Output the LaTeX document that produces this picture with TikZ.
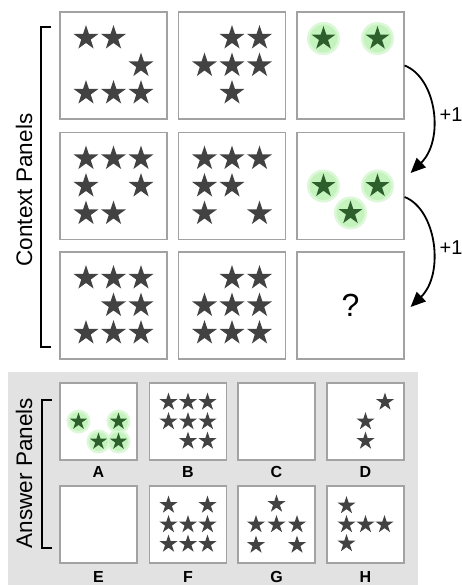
\documentclass[tikz,border=0pt]{standalone}
\usepackage{fontspec}
\setmainfont{Liberation Sans}
\usetikzlibrary{shapes.geometric,arrows.meta}

\definecolor{stargray}{HTML}{424242}
\definecolor{stargreen}{HTML}{2D5F2D}
\definecolor{glowin}{HTML}{C4F3BE}
\definecolor{glowout}{HTML}{DDF8D9}
\definecolor{frame}{HTML}{A2A2A2}
\definecolor{answerbg}{HTML}{E2E2E2}

\tikzset{
  panel/.style={draw=frame, line width=1.2pt, fill=white,
    minimum width=107pt, minimum height=107pt, inner sep=0pt},
  apanel/.style={panel, minimum width=77pt, minimum height=77pt},
  starshape/.style={star, star points=5, star point ratio=2.618,
    inner sep=0pt, draw=none},
  cstar/.style={starshape, fill=stargray, minimum size=26pt},
  cgreen/.style={starshape, fill=stargreen, minimum size=25pt},
  astar/.style={starshape, fill=stargray, minimum size=19pt},
  agreen/.style={starshape, fill=stargreen, minimum size=18pt},
  bracket/.style={line width=2.4pt, black},
  sidelabel/.style={rotate=90, font=\fontsize{22.5}{26}\selectfont},
  letter/.style={font=\fontsize{16}{18}\selectfont\bfseries},
  stepnote/.style={font=\fontsize{20}{22}\selectfont, anchor=west},
  bendarrow/.style={line width=1.8pt, -{Triangle[length=15pt,width=13pt]}}
}

% #1 panel node, #2 grid spacing, #3 star style, #4 list of grid offsets
\newcommand\starset[4]{%
  \foreach \i/\j [count=\k] in {#4}
    \node[#3] (#1s\k) at ([shift={(\i*#2,\j*#2)}]#1) {};}

% glowing stars: #1 panel node, #2 spacing, #3 glow radius, #4 star style, #5 offsets
\newcommand\glowset[5]{%
  \foreach \i/\j in {#5}
    \fill[glowout] ([shift={(\i*#2,\j*#2)}]#1) circle[radius=#3];
  \foreach \i/\j in {#5}
    \fill[glowin] ([shift={(\i*#2,\j*#2)}]#1) circle[radius=#3-2.5pt];
  \starset{#1}{#2}{#4}{#5}}

\begin{document}
\begin{tikzpicture}[x=1pt, y=-1pt]
  \fill[white] (0,0) rectangle (462,585);
  \useasboundingbox (0,0) rectangle (462,585);

  % ---------- context grid ----------
  \node[panel] (p11) at (113.5,65.5) {};
  \node[panel] (p12) at (232,65.5) {};
  \node[panel] (p13) at (350.5,65.5) {};
  \node[panel] (p21) at (113.5,186) {};
  \node[panel] (p22) at (232,186) {};
  \node[panel] (p23) at (350.5,186) {};
  \node[panel] (p31) at (113.5,305.5) {};
  \node[panel] (p32) at (232,305.5) {};
  \node[panel] (p33) at (350.5,305.5) {\fontsize{32}{34}\selectfont ?};

  \starset{p11}{27.5}{cstar}{-1/-1,0/-1,1/0,-1/1,0/1,1/1}
  \starset{p12}{27.5}{cstar}{0/-1,1/-1,-1/0,0/0,1/0,0/1}
  \glowset{p13}{27}{16.5pt}{cgreen}{-1/-1,1/-1}
  \starset{p21}{27.5}{cstar}{-1/-1,0/-1,1/-1,-1/0,1/0,-1/1,0/1}
  \starset{p22}{27.5}{cstar}{-1/-1,0/-1,1/-1,-1/0,0/0,-1/1,1/1}
  \glowset{p23}{27}{16.5pt}{cgreen}{-1/0,1/0,0/1}
  \starset{p31}{27.5}{cstar}{-1/-1,0/-1,1/-1,0/0,1/0,-1/1,0/1,1/1}
  \starset{p32}{27.5}{cstar}{0/-1,1/-1,-1/0,0/0,1/0,-1/1,0/1,1/1}

  % step arrows
  \draw[bendarrow] (p13.east) .. controls +(32,12.5) and +(34,-33) ..
    node[stepnote, pos=0.5, xshift=3pt, yshift=-3pt] (n1) {+1}
    ([shift={(6,-13)}]p23.east);
  \draw[bendarrow] ([shift={(0,11)}]p23.east) .. controls +(32,12.5) and +(34,-33) ..
    node[stepnote, pos=0.5, xshift=3pt, yshift=-3pt] (n2) {+1}
    ([shift={(6,1.5)}]p33.east);

  % context bracket and label
  \draw[bracket] (51,27) -- (41,27) -- (41,347) -- (51,347);
  \node[sidelabel] (ctx) at (24,190) {Context Panels};

  % ---------- answer area ----------
  \fill[answerbg] (8,372) rectangle (418,585);

  \node[apanel] (aA) at (98.5,421.5) {};
  \node[apanel] (aB) at (188,421.5) {};
  \node[apanel] (aC) at (276.5,421.5) {};
  \node[apanel] (aD) at (365.5,421.5) {};
  \node[apanel] (aE) at (98.5,524.5) {};
  \node[apanel] (aF) at (188,524.5) {};
  \node[apanel] (aG) at (276.5,524.5) {};
  \node[apanel] (aH) at (365.5,524.5) {};

  \glowset{aA}{20}{12pt}{agreen}{-1/0,1/0,0/1,1/1}
  \starset{aB}{19.5}{astar}{-1/-1,0/-1,1/-1,-1/0,0/0,1/0,0/1,1/1}
  \starset{aD}{19.5}{astar}{1/-1,0/0,0/1}
  \starset{aF}{19.5}{astar}{-1/-1,1/-1,-1/0,0/0,1/0,-1/1,0/1,1/1}
  \starset{aG}{20.5}{astar}{0/-1,-1/0,0/0,1/0,-1/1,1/1}
  \starset{aH}{19}{astar}{-1/-1,-1/0,0/0,1/0,-1/1}

  \node[letter] (lA) at (98.5,472) {A};
  \node[letter] (lB) at (188,472) {B};
  \node[letter] (lC) at (276.5,472) {C};
  \node[letter] (lD) at (365.5,472) {D};
  \node[letter] (lE) at (98.5,577) {E};
  \node[letter] (lF) at (188,577) {F};
  \node[letter] (lG) at (276.5,577) {G};
  \node[letter] (lH) at (365.5,577) {H};

  % answer bracket and label
  \draw[bracket] (52,400) -- (42,400) -- (42,548) -- (52,548);
  \node[sidelabel] (ans) at (24,473) {Answer Panels};
\end{tikzpicture}
\end{document}
